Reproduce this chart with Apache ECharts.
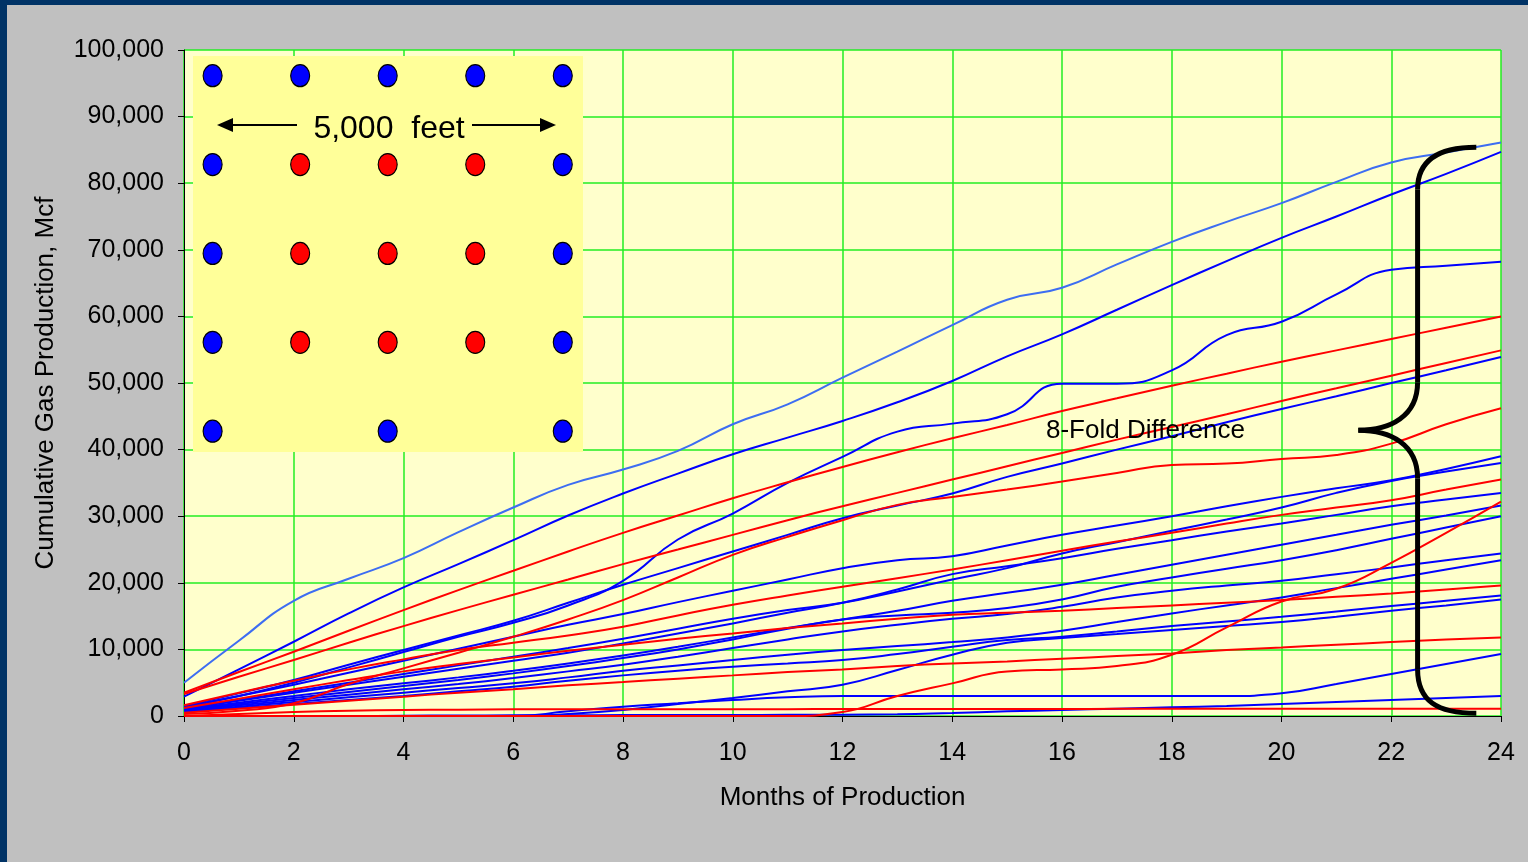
<!DOCTYPE html>
<html><head><meta charset="utf-8">
<script src="https://cdn.jsdelivr.net/npm/echarts@6/dist/echarts.min.js"></script>
<style>html,body{margin:0;padding:0;background:#c0c0c0;overflow:hidden}#c{width:1528px;height:862px}</style>
</head><body><div id="c"></div>
<script>
// ---- data (Mcf cumulative by month) ----
const months = [0,1,2,3,4,5,6,7,8,9,10,11,12,13,14,15,16,17,18,19,20,21,22,23,24];
const wellA = [5000,11300,17300,20600,23700,27600,31300,34700,37000,39800,43800,46800,50800,54700,58700,62500,64300,67800,71200,74200,77000,80200,83100,84600,86100];
const wellB = [2900,7000,11150,15400,19300,22800,26400,30100,33400,36400,39300,41800,44300,47100,50300,54000,57300,61000,64700,68300,71800,75000,78300,81400,84700];
const wellC = [1300,3000,5000,7300,9600,11900,14000,16600,20300,26500,30400,35000,38900,42700,43900,45300,49900,49900,51900,57200,59200,63300,67000,67600,68200];
const wellD = [3500,6600,9650,12800,15900,18900,21800,24700,27500,30100,32700,35100,37400,39600,41700,43700,45800,47700,49600,51400,53200,54900,56600,58300,60000];
const wellE = [3300,5900,8400,11000,13500,15900,18200,20500,22800,25000,27200,29400,31500,33500,35500,37500,39500,41500,43400,45300,47300,49200,51100,53000,54900];
const wellF = [1500,3400,5400,7700,9900,12100,14300,17000,19700,22200,24700,27200,29700,31600,33400,35900,37900,40000,42000,44100,46100,48000,50000,51900,53900];
const wellG = [300,800,1900,4800,7150,9500,11900,14500,17400,20800,24200,26900,29400,31700,32900,34000,35200,36500,37700,37900,38600,39200,40900,43800,46200];
const wellH = [1400,3000,4700,6500,8300,10100,11900,13700,15300,17100,18800,20500,22200,23400,24000,25600,27200,28600,30000,31500,32900,34200,35400,37100,39000];
const wellI = [1200,2400,3700,5000,6300,7600,8900,10200,11600,13100,14600,15900,17000,18700,20500,22200,24400,26100,27800,29500,31300,33500,35300,36700,38000];
const wellJ = [1600,3500,5300,7000,8500,9900,11000,12100,13400,15100,16700,18100,19400,20700,22000,23400,24800,26200,27500,28900,30200,31300,32400,34000,35500];
const wellK = [1100,2300,3500,4700,5900,7100,8300,9500,10900,12400,13900,15500,17000,19000,21300,22500,23700,25100,26400,27700,28900,30200,31500,32500,33500];
const wellL = [0,0,0,0,0,0,0,0,0,0,0,0,600,3000,4900,6700,7000,7500,9200,13300,17200,19100,23000,27500,32200];
const wellM = [1000,2000,3000,4000,4900,5800,6800,7900,9100,10400,11800,13200,14500,15800,17300,18500,19700,21200,22700,24200,25700,27200,28700,30100,31600];
const wellN = [900,1800,2700,3600,4500,5400,6400,7500,8700,10000,11500,13100,14500,15100,15500,16200,17500,19400,20800,22100,23400,24900,26600,28300,30000];
const wellO = [800,1600,2400,3200,4000,4800,5700,6700,7700,8900,10200,11500,12700,13700,14600,15300,16400,17800,18800,19600,20300,21300,22300,23400,24400];
const wellP = [700,1400,2100,2800,3500,4200,4900,5800,6800,7600,8400,9200,9900,10500,11100,11800,12800,14100,15400,16600,17800,19200,20600,22000,23400];
const wellQ = [1200,2600,4000,5400,6700,7800,8800,9800,10700,11600,12400,13200,13900,14600,15200,15500,15800,16200,16600,17000,17400,17900,18400,19000,19600];
const wellR = [600,1200,1800,2400,3000,3700,4400,5300,6100,6800,7400,7900,8400,9300,10400,11400,11900,12700,13500,14200,14900,15700,16500,17300,18100];
const wellS = [0,0,0,0,0,0,0,300,900,1800,2700,3700,4700,6900,9200,11000,11700,12300,12900,13500,14100,14900,15800,16600,17500];
const wellT = [500,1100,1700,2300,2900,3500,4000,4600,5100,5600,6100,6600,7000,7500,7900,8200,8600,9000,9400,9900,10300,10700,11100,11500,11800];
const wellU = [0,0,0,0,0,0,0,700,1400,1900,2400,2800,3000,3000,3000,3000,3000,3000,3000,3000,3400,4800,6300,7800,9300];
const wellV = [0,0,0,0,50,80,100,120,140,150,150,180,200,250,450,700,900,1100,1300,1500,1800,2100,2400,2700,3000];
const wellW = [0,300,600,800,900,950,1000,1000,1000,1000,1020,1030,1040,1050,1050,1060,1060,1070,1070,1080,1080,1090,1090,1100,1100];

// inset well layout: B = outer (blue) well, R = inner (red) well
const wellRows = [
  ['B','B','B','B','B'],
  ['B','R','R','R','B'],
  ['B','R','R','R','B'],
  ['B','R','R','R','B'],
  ['B','', 'B','', 'B']
];
const yTickStep = 10000, xTickStep = 2;

(function () {
const BLUE = '#0000ff', RED = '#ff0000', LBLUE = '#3d6df2';
const lines = [
  {d: wellV, c: BLUE}, {d: wellU, c: BLUE}, {d: wellS, c: BLUE}, {d: wellR, c: BLUE},
  {d: wellP, c: BLUE}, {d: wellO, c: BLUE}, {d: wellN, c: BLUE}, {d: wellM, c: BLUE},
  {d: wellK, c: BLUE}, {d: wellI, c: BLUE}, {d: wellH, c: BLUE}, {d: wellF, c: BLUE},
  {d: wellC, c: BLUE}, {d: wellB, c: BLUE}, {d: wellA, c: LBLUE},
  {d: wellW, c: RED}, {d: wellL, c: RED}, {d: wellT, c: RED}, {d: wellQ, c: RED},
  {d: wellJ, c: RED}, {d: wellG, c: RED}, {d: wellE, c: RED}, {d: wellD, c: RED}
];

const FONT = 'Liberation Sans, Arial, sans-serif';
const chart = echarts.init(document.getElementById('c'), null, {renderer: 'canvas'});

const series = lines.map((l) => ({
  type: 'line', xAxisIndex: 0, yAxisIndex: 0,
  data: months.map((m, k) => [m, l.d[k]]),
  showSymbol: false, smooth: 0.5,
  lineStyle: {color: l.c, width: 2}, itemStyle: {color: l.c},
  z: 3, silent: true, animation: false
}));

const blueWells = [], redWells = [];
wellRows.forEach((row, r) => row.forEach((t, c) => {
  if (t === 'B') blueWells.push([c, r]);
  else if (t === 'R') redWells.push([c, r]);
}));
[[blueWells, BLUE], [redWells, RED]].forEach(([d, col]) => series.push({
  type: 'scatter', xAxisIndex: 1, yAxisIndex: 1, data: d,
  symbol: 'circle', symbolSize: [19, 22],
  itemStyle: {color: col, borderColor: '#000', borderWidth: 1.2, opacity: 1},
  z: 100, silent: true, animation: false
}));

chart.setOption({
  backgroundColor: '#c0c0c0',
  animation: false,
  grid: [
    {left: 184, top: 50, width: 1317, height: 666, show: true, backgroundColor: '#ffffcc', borderWidth: 0},
    {left: 193, top: 56, width: 390, height: 396, show: false}
  ],
  xAxis: [{
    type: 'value', gridIndex: 0, min: 0, max: 24, interval: xTickStep,
    name: 'Months of Production', nameLocation: 'middle', nameGap: 69,
    nameTextStyle: {fontFamily: FONT, fontSize: 26, color: '#000'},
    axisLine: {show: true, onZero: false, lineStyle: {color: '#000', width: 1}},
    axisTick: {show: true, inside: false, length: 6, lineStyle: {color: '#000'}},
    axisLabel: {fontFamily: FONT, fontSize: 25, color: '#000', margin: 25},
    splitLine: {show: true, lineStyle: {color: '#22ee22', width: 1.5}}
  }, {
    type: 'value', gridIndex: 1, min: -0.224, max: 4.231, show: false
  }],
  yAxis: [{
    type: 'value', gridIndex: 0, min: 0, max: 100000, interval: yTickStep,
    name: 'Cumulative Gas Production, Mcf', nameLocation: 'middle', nameGap: 125,
    nameTextStyle: {fontFamily: FONT, fontSize: 26, color: '#000'},
    axisLine: {show: true, lineStyle: {color: '#000', width: 1}},
    axisTick: {show: true, inside: false, length: 6, lineStyle: {color: '#000'}},
    axisLabel: {fontFamily: FONT, fontSize: 25, color: '#000', margin: 20,
      formatter: v => v.toLocaleString('en-US')},
    splitLine: {show: true, lineStyle: {color: '#22ee22', width: 1.5}}
  }, {
    type: 'value', gridIndex: 1, min: -0.222, max: 4.234, inverse: true, show: false
  }],
  series: series
});

// ---- annotations ----
const px = (x, y) => chart.convertToPixel({gridIndex: 0}, [x, y]);
const bTop = px(23.55, 85400), bTip = px(21.4, 42900), bBot = px(23.55, 400);
const vx = px(22.48, 0)[0];
const bStyle = {stroke: '#000', lineWidth: 5, fill: null, lineCap: 'butt'};
const y1 = bTop[1] + 42, y2 = bTip[1] - 48, y3 = bTip[1] + 48, y4 = bBot[1] - 44;
const brace = [
  {type: 'bezierCurve', shape: {x1: bTop[0], y1: bTop[1], cpx1: vx + 20, cpy1: bTop[1], cpx2: vx, cpy2: bTop[1] + 14, x2: vx, y2: y1}},
  {type: 'line', shape: {x1: vx, y1: y1, x2: vx, y2: y2}},
  {type: 'bezierCurve', shape: {x1: vx, y1: y2, cpx1: vx, cpy1: bTip[1] - 14, cpx2: bTip[0] + 32, cpy2: bTip[1], x2: bTip[0], y2: bTip[1]}},
  {type: 'bezierCurve', shape: {x1: bTip[0], y1: bTip[1], cpx1: bTip[0] + 32, cpy1: bTip[1], cpx2: vx, cpy2: bTip[1] + 14, x2: vx, y2: y3}},
  {type: 'line', shape: {x1: vx, y1: y3, x2: vx, y2: y4}},
  {type: 'bezierCurve', shape: {x1: vx, y1: y4, cpx1: vx, cpy1: bBot[1] - 12, cpx2: vx + 20, cpy2: bBot[1], x2: bBot[0], y2: bBot[1]}}
].map(e => Object.assign(e, {z: 60, silent: true, style: bStyle}));

chart.setOption({
  graphic: [
    {type: 'rect', shape: {x: 0, y: 0, width: 1528, height: 5}, style: {fill: '#003366'}, silent: true},
    {type: 'rect', shape: {x: 0, y: 0, width: 7, height: 862}, style: {fill: '#003366'}, silent: true},
    {type: 'rect', z: 50, shape: {x: 193, y: 56, width: 390, height: 396}, style: {fill: '#ffff99'}, silent: true},
    {type: 'line', z: 60, shape: {x1: 230, y1: 125, x2: 297, y2: 125}, style: {stroke: '#000', lineWidth: 2}},
    {type: 'polygon', z: 60, shape: {points: [[217, 125], [233, 118], [233, 132]]}, style: {fill: '#000'}},
    {type: 'line', z: 60, shape: {x1: 472, y1: 125, x2: 542, y2: 125}, style: {stroke: '#000', lineWidth: 2}},
    {type: 'polygon', z: 60, shape: {points: [[556, 125], [540, 118], [540, 132]]}, style: {fill: '#000'}},
    {type: 'text', z: 60, style: {text: '5,000  feet', x: 389, y: 129, align: 'center', verticalAlign: 'middle',
      font: '32px ' + FONT, fill: '#000'}},
    {type: 'text', z: 60, style: {text: '8-Fold Difference', x: 1046, y: 431, align: 'left', verticalAlign: 'middle',
      font: '26px ' + FONT, fill: '#000'}}
  ].concat(brace)
});
})();
</script></body></html>
